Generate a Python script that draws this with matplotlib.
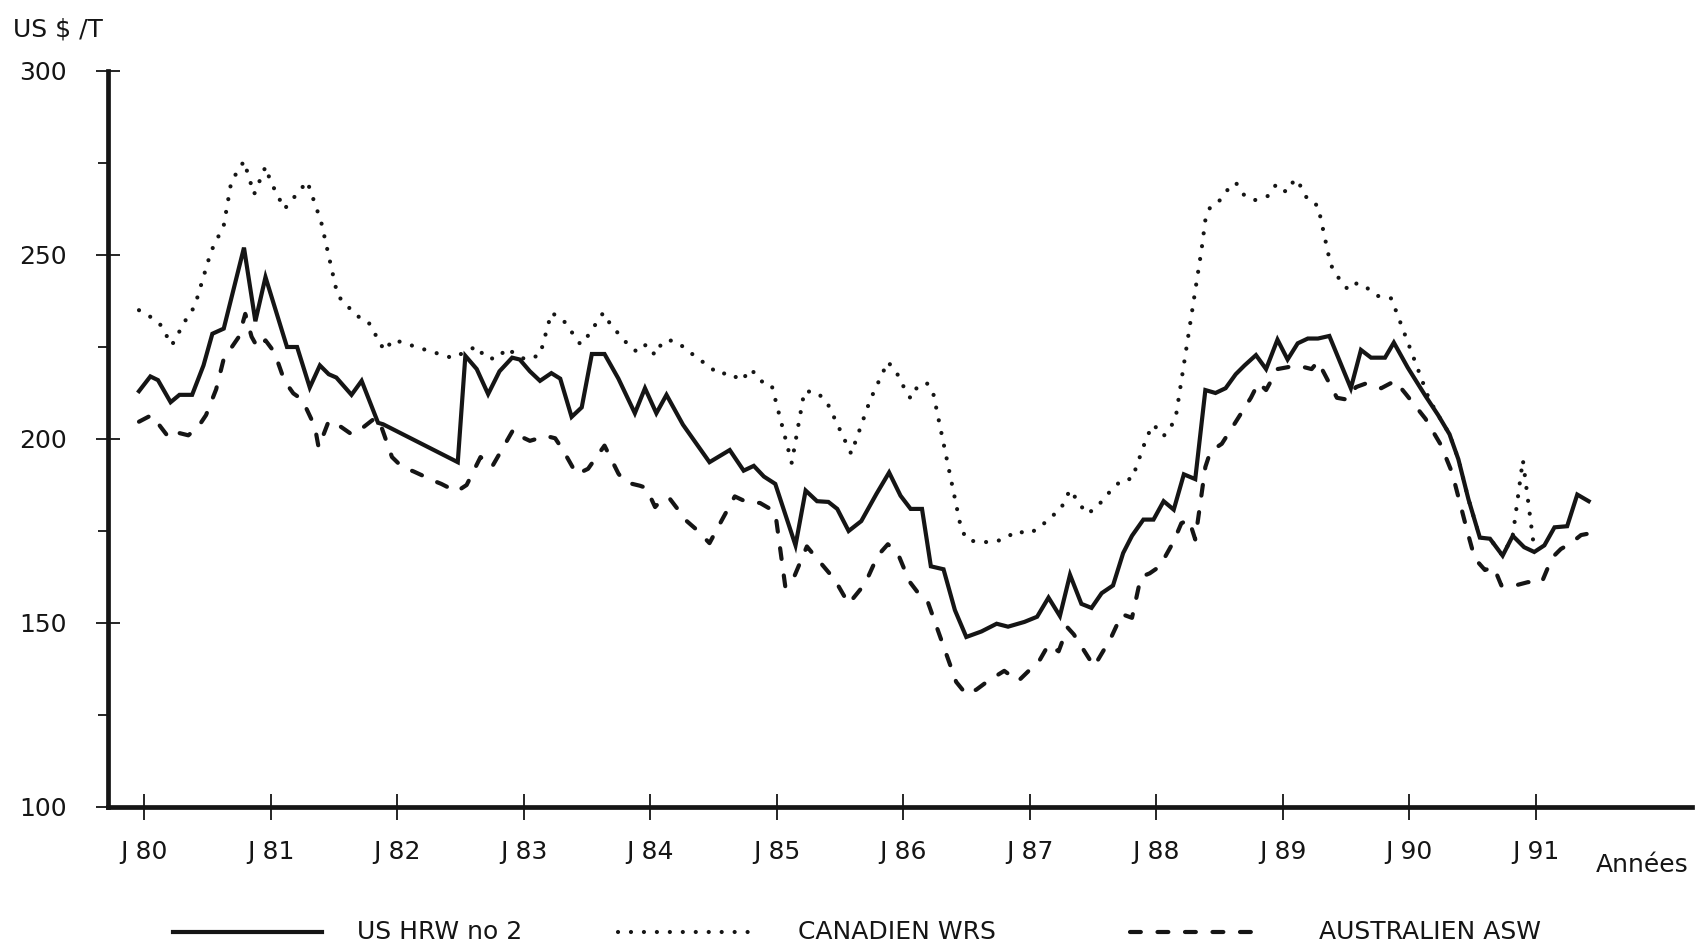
import matplotlib
matplotlib.use("Agg")
import matplotlib.pyplot as plt
from matplotlib.lines import Line2D

# ---------------- data ----------------
us_t = [1979.96, 1980.05, 1980.11, 1980.21, 1980.28, 1980.38, 1980.47, 1980.54, 1980.63, 1980.79,
        1980.88, 1980.96, 1981.13, 1981.21, 1981.31, 1981.39, 1981.46, 1981.52, 1981.64, 1981.72,
        1981.85, 1981.89, 1982.48, 1982.54, 1982.63, 1982.72, 1982.81, 1982.91, 1982.97, 1983.05,
        1983.13, 1983.22, 1983.29, 1983.38, 1983.46, 1983.54, 1983.64, 1983.75, 1983.88, 1983.96,
        1984.05, 1984.13, 1984.26, 1984.47, 1984.63, 1984.74, 1984.82, 1984.90, 1984.99, 1985.15,
        1985.23, 1985.32, 1985.41, 1985.48, 1985.57, 1985.67, 1985.79, 1985.89, 1985.98, 1986.06,
        1986.15, 1986.22, 1986.32, 1986.41, 1986.50, 1986.62, 1986.74, 1986.83, 1986.96, 1987.06,
        1987.15, 1987.24, 1987.32, 1987.41, 1987.49, 1987.57, 1987.66, 1987.74, 1987.81, 1987.90,
        1987.98, 1988.06, 1988.14, 1988.22, 1988.31, 1988.39, 1988.47, 1988.55, 1988.63, 1988.70,
        1988.79, 1988.87, 1988.96, 1989.04, 1989.12, 1989.20, 1989.28, 1989.37, 1989.54, 1989.62,
        1989.70, 1989.81, 1989.88, 1989.99, 1990.13, 1990.23, 1990.32, 1990.39, 1990.47, 1990.56,
        1990.64, 1990.74, 1990.82, 1990.91, 1990.99, 1991.07, 1991.15, 1991.25, 1991.33, 1991.42]
us_v = [213, 217, 216, 210, 212, 212, 220, 228.6, 230, 252,
        232, 244, 225, 225, 214, 220, 217.6, 216.7, 212, 215.8,
        204.4, 204, 193.7, 222.6, 219, 212.2, 218.4, 222.1, 221.6, 218.4,
        215.8, 217.9, 216.4, 206, 208.6, 223.1, 223.1, 216.4, 207, 213.8,
        207, 212, 203.9, 193.7, 197, 191.4, 192.7, 189.8, 187.8, 171.1,
        186, 183.1, 182.9, 181, 175, 177.7, 185.1, 190.9, 184.6, 181,
        181, 165.4, 164.6, 153.5, 146.2, 147.7, 149.8, 149, 150.3, 151.7,
        156.9, 151.9, 163.1, 155.2, 154.1, 158.1, 160.2, 169, 173.7, 178.1,
        178.1, 183.1, 180.8, 190.4, 189.1, 213.3, 212.5, 213.8, 217.6, 220,
        222.8, 219, 227, 221.6, 226, 227.3, 227.3, 228, 213.8, 224.2,
        222.1, 222.1, 226.2, 219.4, 211.7, 206.5, 201.3, 194.5, 183.6, 173.2,
        172.9, 168.3, 173.7, 170.6, 169.3, 171.1, 176, 176.3, 184.9, 183.1]

ca_t = [1979.96, 1980.06, 1980.13, 1980.22, 1980.34, 1980.40, 1980.53, 1980.63, 1980.69, 1980.79,
        1980.87, 1980.96, 1981.00, 1981.11, 1981.29, 1981.40, 1981.53, 1981.68, 1981.77, 1981.90,
        1981.97, 1982.20, 1982.44, 1982.63, 1982.70, 1982.79, 1982.87, 1982.95, 1983.02, 1983.13,
        1983.22, 1983.31, 1983.45, 1983.50, 1983.63, 1983.69, 1983.83, 1983.90, 1983.97, 1984.04,
        1984.10, 1984.18, 1984.28, 1984.37, 1984.46, 1984.54, 1984.63, 1984.72, 1984.80, 1984.87,
        1984.96, 1985.12, 1985.22, 1985.32, 1985.40, 1985.59, 1985.74, 1985.88, 1985.95, 1986.00,
        1986.06, 1986.12, 1986.19, 1986.24, 1986.46, 1986.51, 1986.61, 1986.71, 1986.81, 1986.89,
        1986.99, 1987.08, 1987.16, 1987.24, 1987.32, 1987.45, 1987.52, 1987.66, 1987.74, 1987.81,
        1987.93, 1987.98, 1988.06, 1988.12, 1988.16, 1988.36, 1988.39, 1988.43, 1988.50, 1988.57,
        1988.63, 1988.70, 1988.78, 1988.89, 1988.95, 1989.03, 1989.10, 1989.15, 1989.20, 1989.28,
        1989.38, 1989.45, 1989.52, 1989.59, 1989.67, 1989.75, 1989.86, 1990.07, 1990.16, 1990.23,
        1990.32, 1990.39, 1990.47, 1990.56, 1990.64, 1990.74, 1990.82, 1990.90, 1990.99]
ca_v = [235, 233, 231, 225.5, 233, 236, 251, 258, 270, 275.5,
        266.5, 274, 270, 262.5, 270, 259, 239, 233.5, 232, 224,
        227, 224.5, 222, 225.2, 222, 221.8, 224.7, 222.6, 221.6, 222.8,
        234.3, 232.5, 225.7, 227.6, 234.3, 231, 225.5, 223.6, 225.7, 222.8,
        226.5, 226.8, 224.7, 222, 220, 217.6, 218, 215.8, 219, 215.8,
        214.8, 193.5, 213, 212.7, 209.9, 196, 210.6, 221, 218, 214.5,
        211, 214.6, 215.1, 212.2, 175.5, 172.5, 172, 172, 172.9, 175,
        174.3, 175.8, 178.7, 180.5, 186.2, 179.7, 181, 186.7, 189.1, 189.1,
        200.8, 203.9, 200.8, 203.4, 206.8, 251.5, 259.5, 263.2, 264.7, 267.9,
        269.7, 266.1, 264.9, 266.1, 269.2, 267.1, 270.7, 268.4, 264.9, 263.4,
        247.4, 243.4, 240.5, 242.4, 241, 238.9, 238.2, 219, 210.7, 206.5,
        201.3, 194.5, 183.6, 173.2, 172.9, 168.3, 173.7, 194.3, 170]

au_t = [1979.96, 1980.06, 1980.20, 1980.28, 1980.35, 1980.43, 1980.49, 1980.57, 1980.63, 1980.75,
        1980.80, 1980.85, 1980.90, 1980.96, 1981.03, 1981.11, 1981.18, 1981.25, 1981.35, 1981.38,
        1981.46, 1981.54, 1981.64, 1981.73, 1981.83, 1981.87, 1981.96, 1982.04, 1982.13, 1982.30,
        1982.35, 1982.47, 1982.55, 1982.66, 1982.75, 1982.92, 1982.97, 1983.05, 1983.18, 1983.25,
        1983.31, 1983.42, 1983.51, 1983.64, 1983.75, 1983.80, 1983.92, 1983.97, 1984.04, 1984.10,
        1984.16, 1984.29, 1984.37, 1984.47, 1984.57, 1984.67, 1984.75, 1984.87, 1984.95, 1984.99,
        1985.07, 1985.13, 1985.24, 1985.30, 1985.46, 1985.57, 1985.70, 1985.80, 1985.88, 1985.96,
        1986.05, 1986.11, 1986.19, 1986.42, 1986.50, 1986.58, 1986.67, 1986.80, 1986.91, 1987.02,
        1987.08, 1987.15, 1987.23, 1987.30, 1987.35, 1987.51, 1987.64, 1987.73, 1987.81, 1987.88,
        1987.95, 1988.03, 1988.14, 1988.20, 1988.26, 1988.31, 1988.39, 1988.43, 1988.52, 1988.62,
        1988.75, 1988.81, 1988.87, 1988.96, 1989.07, 1989.15, 1989.23, 1989.28, 1989.43, 1989.51,
        1989.58, 1989.66, 1989.78, 1989.89, 1989.98, 1990.13, 1990.25, 1990.34, 1990.46, 1990.52,
        1990.60, 1990.67, 1990.73, 1990.84, 1990.94, 1991.05, 1991.13, 1991.20, 1991.28, 1991.36,
        1991.42]
au_v = [204.7, 206.5, 200.2, 201.6, 201, 203.4, 206.5, 213.5, 221.8, 227.8,
        234, 227.8, 224.7, 226.8, 223.6, 215.8, 212.4, 210.7, 203.4, 197.7,
        204.9, 203.7, 201.3, 203.1, 205.8, 203.9, 195.1, 192.4, 191.2, 188.5,
        187.8, 185.7, 187.5, 195.1, 192.4, 202.6, 200.8, 199.5, 200.8, 200.2,
        197.1, 190.4, 191.9, 198.2, 190.6, 188.3, 187.3, 186.7, 181.5, 183.9,
        183.6, 177.7, 175.3, 171.7, 178.1, 184.4, 183.1, 182.6, 181, 180,
        159.7, 161.8, 170.8, 168.3, 161.8, 155.2, 160.7, 168.3, 171.4, 168.8,
        161.3, 158.6, 156.3, 134, 130.6, 131.9, 134.2, 137, 134.2, 137.9,
        139.9, 144.1, 142.3, 148.8, 146.9, 138.2, 145.7, 152.4, 151.4, 162.5,
        163.5, 165.4, 172.2, 177.1, 178.1, 172.7, 192.4, 196.6, 198.7, 204.1,
        211.2, 215.3, 213.3, 219, 219.7, 219.7, 219, 221.1, 211.2, 210.7,
        214.1, 215.1, 213.8, 215.8, 212, 205.5, 198.5, 190.9, 175, 167.5,
        164.4, 165.2, 160.2, 160.2, 161.1, 161.1, 167.7, 170.1, 171.7, 173.9,
        174.3]

year_ticks = list(range(1980, 1992))
year_labels = ["J 80", "J 81", "J 82", "J 83", "J 84", "J 85", "J 86", "J 87",
               "J 88", "J 89", "J 90", "J 91"]
y_ticks = [100, 150, 200, 250, 300]
y_minor = [125, 175, 225, 275]
series_names = ["US HRW no 2", "CANADIEN WRS", "AUSTRALIEN ASW"]

# ---------------- figure ----------------
W, H = 1695, 948
fig = plt.figure(figsize=(W / 100, H / 100), dpi=100)
ax = fig.add_axes([108 / W, 1 - 807 / H, (1692 - 108) / W, (807 - 71) / H])

ink = "#151515"
lw = 3.0
solid_style = dict(color=ink, lw=lw, linestyle="-", solid_joinstyle="miter")
dot_style = dict(color=ink, lw=lw, linestyle=(0, (0.01, 3.1)), dash_capstyle="round")
dash_style = dict(color=ink, lw=lw, linestyle=(0, (2.6, 4.0)), dash_capstyle="round")

ax.plot(ca_t, ca_v, **dot_style)
ax.plot(au_t, au_v, **dash_style)
ax.plot(us_t, us_v, **solid_style)

ax.set_xlim(1979.715, 1992.237)
ax.set_ylim(100, 300)

for s in ["top", "right"]:
    ax.spines[s].set_visible(False)
for s in ["left", "bottom"]:
    ax.spines[s].set_linewidth(3.4)
    ax.spines[s].set_color(ink)

ax.set_xticks(year_ticks)
ax.set_xticklabels(year_labels, fontsize=18, color=ink)
ax.set_yticks(y_ticks)
ax.set_yticklabels([str(v) for v in y_ticks], fontsize=18, color=ink)
ax.set_yticks(y_minor, minor=True)
ax.tick_params(axis="x", direction="inout", length=19, width=1.3, pad=14, colors=ink)
ax.tick_params(axis="y", which="major", direction="inout", length=17, width=1.3, pad=21, colors=ink)
ax.tick_params(axis="y", which="minor", direction="out", length=7, width=1.3, colors=ink)

fig.text(13 / W, 1 - 30 / H, "US $ /T", fontsize=18, color=ink, ha="left", va="center")
fig.text(1689 / W, 1 - 865 / H, "Années", fontsize=18, color=ink, ha="right", va="center")

# legend drawn manually
ly = 1 - 932 / H
items = [(173, 322, 357, solid_style), (618, 757, 798, dot_style), (1130, 1265, 1319, dash_style)]
for (x0, x1, xt, st), name in zip(items, series_names):
    fig.add_artist(Line2D([x0 / W, x1 / W], [ly, ly], transform=fig.transFigure, **st))
    fig.text(xt / W, ly, name, fontsize=18, color=ink, ha="left", va="center")

fig.savefig("out.png", dpi=100)
